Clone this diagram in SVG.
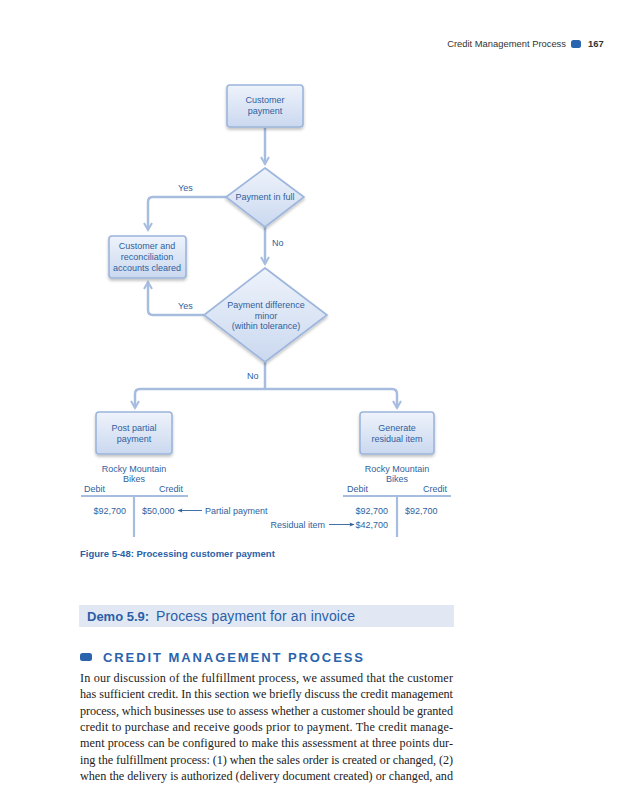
<svg xmlns="http://www.w3.org/2000/svg" width="639" height="800" viewBox="0 0 639 800">
<defs>
<linearGradient id="g" x1="0" y1="0" x2="0" y2="1">
<stop offset="0" stop-color="#eef3fb"/>
<stop offset="1" stop-color="#cad8ef"/>
</linearGradient>
<filter id="sh" x="-20%" y="-20%" width="140%" height="150%">
<feGaussianBlur in="SourceAlpha" stdDeviation="1.5"/>
<feOffset dx="0" dy="1.5"/>
<feComponentTransfer><feFuncA type="linear" slope="0.25"/></feComponentTransfer>
<feMerge><feMergeNode/><feMergeNode in="SourceGraphic"/></feMerge>
</filter>
<marker id="ah" viewBox="0 0 10 10" refX="8" refY="5" markerWidth="4" markerHeight="4" orient="auto">
<path d="M1,1 L8,5 L1,9" fill="none" stroke="#a6bde0" stroke-width="2"/>
</marker>
<marker id="sa" viewBox="0 0 10 10" refX="9" refY="5" markerWidth="7" markerHeight="5" orient="auto" markerUnits="userSpaceOnUse">
<path d="M0,1 L10,5 L0,9 L2,5 Z" fill="#2f5f9e"/>
</marker>
</defs>
<style>
.box{fill:url(#g);stroke:#9cb5dc;stroke-width:1.6;filter:url(#sh)}
.c{fill:none;stroke:#a6bde0;stroke-width:2.5}
.t{font-family:"Liberation Sans",Arial,sans-serif;font-size:9px;fill:#2f5f9e}
.m{text-anchor:middle}
.e{text-anchor:end}
.ta{stroke:#a6bde0;stroke-width:2.2;fill:none}
.body{font-family:"Liberation Serif","Times New Roman",serif;font-size:12.2px;fill:#222}
</style>
<rect width="639" height="800" fill="#fff"/>

<g id="header">
<text x="566" y="47" class="e" font-family="'Liberation Sans',Arial,sans-serif" font-size="9.4px" fill="#333">Credit Management Process</text>
<rect x="571" y="40" width="10" height="8" rx="2.5" fill="#2a64ad"/>
<text x="588" y="47" font-family="'Liberation Sans',Arial,sans-serif" font-size="9.4px" font-weight="bold" fill="#333">167</text>
</g>

<g id="connectors">
<path class="c" d="M265,128 V164" marker-end="url(#ah)"/>
<path class="c" d="M226,197 H153 Q148,197 148,202 V230" marker-end="url(#ah)"/>
<path class="c" d="M265,227 V264" marker-end="url(#ah)"/>
<path class="c" d="M204,315 H153 Q148,315 148,310 V282" marker-end="url(#ah)"/>
<path class="c" d="M265,362 V389"/>
<path class="c" d="M265,389 H140 Q135,389 135,394 V408" marker-end="url(#ah)"/>
<path class="c" d="M265,389 H392 Q397,389 397,394 V408" marker-end="url(#ah)"/>
</g>

<g id="customer-payment">
<rect class="box" x="227" y="85" width="76" height="42" rx="3"/>
<text class="t m" x="265" y="103">Customer</text>
<text class="t m" x="265" y="114">payment</text>
</g>

<g id="payment-in-full">
<polygon class="box" points="265,168 304,197 265,227 226,197"/>
<text class="t m" x="265" y="200">Payment in full</text>
</g>

<g id="accounts-cleared">
<rect class="box" x="109" y="236" width="77" height="42" rx="3"/>
<text class="t m" x="147" y="249">Customer and</text>
<text class="t m" x="147" y="260">reconciliation</text>
<text class="t m" x="147" y="271">accounts cleared</text>
</g>

<g id="payment-difference">
<polygon class="box" points="265,268 327,315 265,362 204,315"/>
<text class="t m" x="266" y="308">Payment difference</text>
<text class="t m" x="266" y="318.5">minor</text>
<text class="t m" x="266" y="329">(within tolerance)</text>
</g>

<g id="labels">
<text class="t" x="178" y="191">Yes</text>
<text class="t" x="272" y="246">No</text>
<text class="t" x="178" y="309">Yes</text>
<text class="t" x="247" y="379">No</text>
</g>

<g id="post-partial">
<rect class="box" x="96" y="412" width="76" height="42" rx="3"/>
<text class="t m" x="134" y="431">Post partial</text>
<text class="t m" x="134" y="442">payment</text>
</g>

<g id="generate-residual">
<rect class="box" x="360" y="412" width="74" height="42" rx="3"/>
<text class="t m" x="397" y="431">Generate</text>
<text class="t m" x="397" y="442">residual item</text>
</g>

<g id="t-account-left">
<text class="t m" x="134" y="472">Rocky Mountain</text>
<text class="t m" x="134" y="482">Bikes</text>
<text class="t" x="84" y="492">Debit</text>
<text class="t e" x="183" y="492">Credit</text>
<path class="ta" d="M81,496 H188 M134,496 V537"/>
<text class="t e" x="126" y="514">$92,700</text>
<text class="t" x="142" y="514">$50,000</text>
<path d="M202,510.5 H178" stroke="#2f5f9e" stroke-width="0.9" marker-end="url(#sa)"/>
<text class="t" x="205" y="514">Partial payment</text>
</g>

<g id="t-account-right">
<text class="t m" x="397" y="472">Rocky Mountain</text>
<text class="t m" x="397" y="482">Bikes</text>
<text class="t" x="347" y="492">Debit</text>
<text class="t e" x="447" y="492">Credit</text>
<path class="ta" d="M343,496 H451 M397,496 V537"/>
<text class="t e" x="388" y="514">$92,700</text>
<text class="t" x="405" y="514">$92,700</text>
<text class="t e" x="325" y="528">Residual item</text>
<path d="M329,524.5 H354" stroke="#2f5f9e" stroke-width="0.9" marker-end="url(#sa)"/>
<text class="t e" x="388" y="528">$42,700</text>
</g>

<text x="80" y="557" font-family="'Liberation Sans',Arial,sans-serif" font-size="9.5px" font-weight="bold" fill="#2a5fa8">Figure 5-48: Processing customer payment</text>

<rect x="79" y="605" width="375" height="22" fill="#e1e8f4"/>
<text x="87" y="621" font-family="'Liberation Sans',Arial,sans-serif" font-size="13px" font-weight="bold" fill="#2a5fa8">Demo 5.9:</text>
<text x="156" y="621" font-family="'Liberation Sans',Arial,sans-serif" font-size="14px" fill="#2a5fa8" textLength="199" lengthAdjust="spacing">Process payment for an invoice</text>

<rect x="80" y="653" width="12" height="8" rx="2.5" fill="#2a64ad"/>
<text x="103" y="662" font-family="'Liberation Sans',Arial,sans-serif" font-size="13px" font-weight="bold" fill="#2a64ad" textLength="260" lengthAdjust="spacing">CREDIT MANAGEMENT PROCESS</text>

<g class="body">
<text x="80" y="682" textLength="373" lengthAdjust="spacing">In our discussion of the fulfillment process, we assumed that the customer</text>
<text x="80" y="698" textLength="373" lengthAdjust="spacing">has sufficient credit. In this section we briefly discuss the credit management</text>
<text x="80" y="714.5" textLength="373" lengthAdjust="spacing">process, which businesses use to assess whether a customer should be granted</text>
<text x="80" y="731" textLength="373" lengthAdjust="spacing">credit to purchase and receive goods prior to payment. The credit manage-</text>
<text x="80" y="747" textLength="373" lengthAdjust="spacing">ment process can be configured to make this assessment at three points dur-</text>
<text x="80" y="763.5" textLength="373" lengthAdjust="spacing">ing the fulfillment process: (1) when the sales order is created or changed, (2)</text>
<text x="80" y="780" textLength="373" lengthAdjust="spacing">when the delivery is authorized (delivery document created) or changed, and</text>
</g>
</svg>
